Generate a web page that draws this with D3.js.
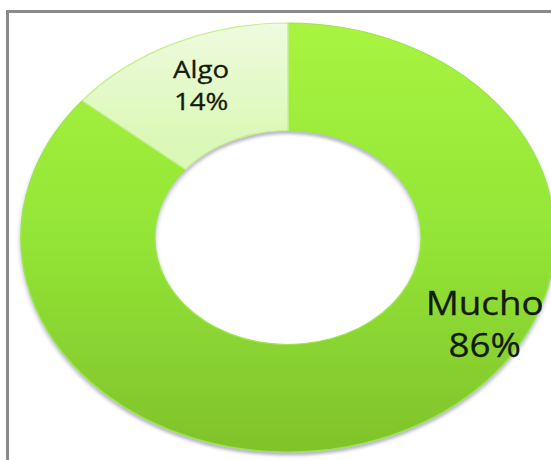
<!DOCTYPE html>
<html>
<head>
<meta charset="utf-8">
<script src="https://cdn.jsdelivr.net/npm/d3@7"></script>
<style>
  body { margin: 0; background: #fff; }
  svg { display: block; }
</style>
</head>
<body>
<svg width="551" height="460"></svg>
<script>
// donut: Mucho / Algo
var categories = ["Mucho", "Algo"];
var values = [86, 14];
var pctLabels = ["86%", "14%"];

var svg = d3.select("svg"),
    width = +svg.attr("width"),
    height = +svg.attr("height");

var data = categories.map(function(c, i) { return {name: c, value: values[i], pct: pctLabels[i]}; });

// outer frame (runs off the right and bottom)
svg.append("rect")
    .attr("x", 7.5)
    .attr("y", 11.5)
    .attr("width", 600)
    .attr("height", 600)
    .attr("fill", "none")
    .attr("stroke", "#8a8a8a")
    .attr("stroke-width", 3);

var defs = svg.append("defs");

var grad = defs.append("linearGradient")
    .attr("id", "gMucho")
    .attr("gradientUnits", "userSpaceOnUse")
    .attr("x1", 0).attr("y1", -215)
    .attr("x2", 0).attr("y2", 215);
grad.append("stop").attr("offset", "0%").attr("stop-color", "#a8f440");
grad.append("stop").attr("offset", "50%").attr("stop-color", "#93e536");
grad.append("stop").attr("offset", "100%").attr("stop-color", "#80c22b");

var grad2 = defs.append("linearGradient")
    .attr("id", "gAlgo")
    .attr("gradientUnits", "userSpaceOnUse")
    .attr("x1", 0).attr("y1", -215)
    .attr("x2", 0).attr("y2", -100);
grad2.append("stop").attr("offset", "0%").attr("stop-color", "#eefbdf");
grad2.append("stop").attr("offset", "100%").attr("stop-color", "#dcf8b8");

var shadow = defs.append("filter")
    .attr("id", "shadow")
    .attr("x", "-10%").attr("y", "-10%")
    .attr("width", "120%").attr("height", "120%");
shadow.append("feDropShadow")
    .attr("dx", 0).attr("dy", 3)
    .attr("stdDeviation", 1.5)
    .attr("flood-color", "#7d7d9a")
    .attr("flood-opacity", 0.55);

var fills = {Mucho: "url(#gMucho)", Algo: "url(#gAlgo)"};

var rOuter = 214.5, rInner = 107, stretch = 1.245;

var pie = d3.pie()
    .sort(null)
    .value(function(d) { return d.value; });

var arc = d3.arc()
    .innerRadius(rInner)
    .outerRadius(rOuter);

var g = svg.append("g")
    .attr("transform", "translate(288,237.5) scale(" + stretch + ",1)");

var arcs = pie(data);

g.append("g")
    .attr("filter", "url(#shadow)")
  .selectAll("path")
    .data(arcs)
  .enter().append("path")
    .attr("d", arc)
    .attr("fill", function(d) { return fills[d.data.name]; })
    .attr("stroke", function(d) { return d.data.name == "Algo" ? "#c6f08e" : "#9be64a"; })
    .attr("stroke-width", 1.2);

// label anchors: Algo sits in its slice, Mucho is pushed out to the right edge
var labelRadius = {Mucho: 183, Algo: 164};
var labelAngle = {Mucho: 2.10};
var fontSize = {Mucho: 32, Algo: 24};

var labels = g.selectAll("text")
    .data(arcs)
  .enter().append("text")
    .attr("transform", function(d) {
      var name = d.data.name;
      var a = labelAngle[name] != null ? labelAngle[name] : (d.startAngle + d.endAngle) / 2;
      var r = labelRadius[name];
      var p = d3.arc().innerRadius(r).outerRadius(r).centroid({startAngle: a, endAngle: a});
      return "translate(" + p[0] + "," + p[1] + ") scale(" + (1.15 / stretch) + ",1)";
    })
    .attr("text-anchor", "middle")
    .attr("font-family", "'Open Sans', sans-serif")
    .attr("font-size", function(d) { return fontSize[d.data.name]; })
    .attr("fill", "#141a0c")
    .attr("stroke", "#141a0c")
    .attr("stroke-width", 0.3);

labels.append("tspan")
    .attr("x", 0)
    .attr("dy", "-0.45em")
    .text(function(d) { return d.data.name; });

labels.append("tspan")
    .attr("x", 0)
    .attr("dy", "1.3em")
    .text(function(d) { return d.data.pct; });
</script>
</body>
</html>
